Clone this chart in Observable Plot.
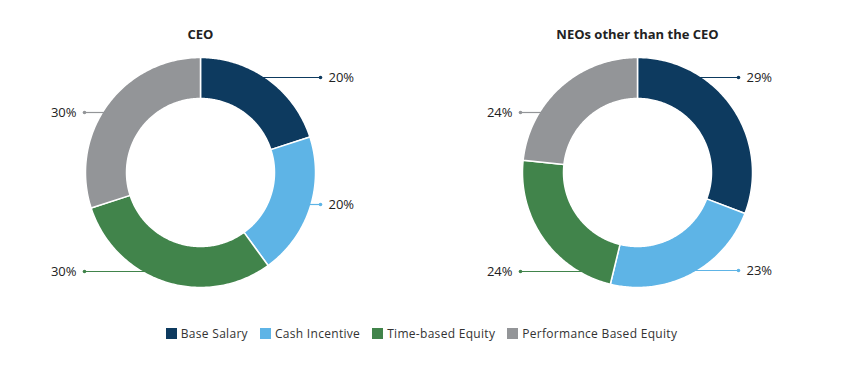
<!DOCTYPE html>
<html><head><meta charset="utf-8">
<script src="https://cdn.jsdelivr.net/npm/d3@7"></script>
<script src="https://cdn.jsdelivr.net/npm/@observablehq/plot@0.6"></script>
<style>
body{margin:0;background:#fff;}
#chart{width:843px;}
#chart svg g[aria-label="data label"] text{letter-spacing:1px;}
.legend{display:flex;justify-content:center;align-items:center;height:36px;margin-top:0;font-family:"Open Sans",sans-serif;font-size:12px;letter-spacing:0.3px;color:#333;padding-left:0px;}
.legend .item{display:flex;align-items:center;margin:0 6px;}
.legend .sw{width:11px;height:11px;margin-right:4px;}
</style></head><body><div id="chart"></div><script>
// ---- data ----
const categories = ["Base Salary","Cash Incentive","Time-based Equity","Performance Based Equity"];
const colors = ["#0d3a5f","#5eb4e6","#41844b","#939598"];
const chartTitles = ["CEO","NEOs other than the CEO"];
// slice sizes as drawn in the reference
const ceoValues = [20,20,30,30];
const neoValues = [30.8,23.0,22.9,23.3];
// data labels as printed in the reference
const ceoLabels = ["20%","20%","30%","30%"];
const neoLabels = ["29%","23%","24%","24%"];

// ---- layout ----
const W = 843, H = 315;
const centersX = [200, 637], cy = 172, R = 115, r0 = 74, titleY = 34;
const labelLayout = [
  [{dy:-95, side:1, dotDx:120},{dy:32, side:1, dotDx:120},{dy:99, side:-1, dotDx:116},{dy:-60, side:-1, dotDx:116}],
  [{dy:-95, side:1, dotDx:101},{dy:98, side:1, dotDx:101},{dy:99, side:-1, dotDx:117},{dy:-60, side:-1, dotDx:117}]
];

const seriesList = [ceoValues, neoValues];
const labelList = [ceoLabels, neoLabels];
const sliceRows = [], leaders = [], titles = [];
seriesList.forEach((vals, ci) => {
  const cx = centersX[ci];
  titles.push({x: cx, y: titleY, text: chartTitles[ci]});
  const arcs = d3.pie().sort(null).value(d => d)(vals);
  arcs.forEach((a, i) => {
    const key = ci + "-" + i, cat = categories[i];
    const n = 120, pts = [];
    for (let k = 0; k <= n; k++) { const t = a.startAngle + (a.endAngle - a.startAngle) * k / n; pts.push([cx + R*Math.sin(t), cy - R*Math.cos(t)]); }
    for (let k = n; k >= 0; k--) { const t = a.startAngle + (a.endAngle - a.startAngle) * k / n; pts.push([cx + r0*Math.sin(t), cy - r0*Math.cos(t)]); }
    pts.push(pts[0]);
    pts.forEach(p => sliceRows.push({key, category: cat, x: p[0], y: p[1]}));
    const L = labelLayout[ci][i];
    const y = cy + L.dy;
    const x1 = cx + L.side * Math.sqrt(Math.max(0, R*R - L.dy*L.dy)) - L.side*3;
    const x2 = cx + L.side * L.dotDx;
    leaders.push({category: cat, x1, y1: y, x2, y2: y, side: L.side, tx: x2 + L.side*8, text: labelList[ci][i]});
  });
});

const plot = Plot.plot({
  width: W, height: H, margin: 0,
  x: {domain: [0, W], range: [0, W], axis: null},
  y: {domain: [0, H], range: [0, H], axis: null},
  color: {domain: categories, range: colors},
  style: {fontFamily: "'Open Sans', sans-serif", background: "#fff"},
  marks: [
    Plot.line(sliceRows, {x: "x", y: "y", z: "key", fill: "category", stroke: "white", strokeWidth: 1.5, curve: "linear"}),
    Plot.link(leaders, {x1: "x1", y1: "y1", x2: "x2", y2: "y2", stroke: "category", strokeWidth: 1.2}),
    Plot.dot(leaders, {x: "x2", y: "y2", r: 1.8, fill: "category"}),
    Plot.text(leaders.filter(d => d.side > 0), {x: "tx", y: "y1", text: "text", textAnchor: "start", fontSize: 13, fill: "#222", ariaLabel: "data label"}),
    Plot.text(leaders.filter(d => d.side < 0), {x: "tx", y: "y1", text: "text", textAnchor: "end", fontSize: 13, fill: "#222", ariaLabel: "data label"}),
    Plot.text(titles, {x: "x", y: "y", text: "text", fontSize: 13, fontWeight: "bold", fill: "#222", ariaLabel: "title"})
  ]
});
const root = document.getElementById("chart");
root.appendChild(plot);
const lg = document.createElement("div"); lg.className = "legend";
categories.forEach((c, i) => {
  const it = document.createElement("div"); it.className = "item";
  const sw = document.createElement("span"); sw.className = "sw"; sw.style.background = colors[i];
  const tx = document.createElement("span"); tx.textContent = c;
  it.appendChild(sw); it.appendChild(tx); lg.appendChild(it);
});
root.appendChild(lg);
</script></body></html>
